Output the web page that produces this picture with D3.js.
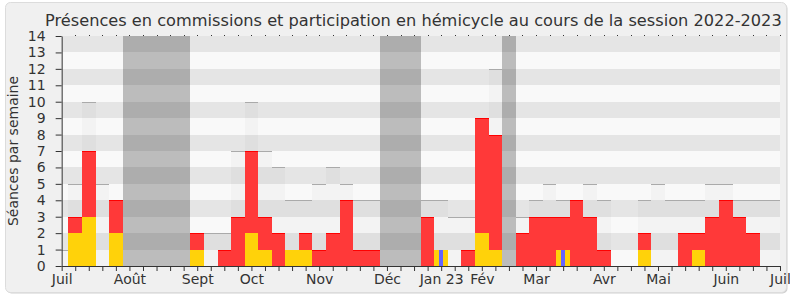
<!DOCTYPE html>
<html>
<head>
<meta charset="utf-8">
<script src="https://cdn.jsdelivr.net/npm/d3@7"></script>
<style>
  html, body { margin: 0; padding: 0; background: #fff; }
  svg { display: block; font-family: "DejaVu Sans", Verdana, sans-serif; }
</style>
</head>
<body>
<div id="chart"></div>
<script>
// Semaines de la session (0 = début juillet 2022, 53 = début juillet 2023)
const weeks = d3.range(54);

// Présences en commission + hémicycle (hauteur totale, rouge)
const presences = [0, 3, 7, 0, 4, 0, 0, 0, 0, 0, 2, 0, 1, 3, 7, 3, 2, 1, 2, 1,
  2, 4, 1, 1, 0, 0, 0, 3, 1, 0, 1, 9, 8, 0, 2, 3, 3, 3, 4, 3,
  1, 0, 0, 2, 0, 0, 2, 2, 3, 4, 3, 2, 0, 0];
// Participations en hémicycle (jaune)
const hemicycle = [0, 2, 3, 0, 2, 0, 0, 0, 0, 0, 1, 0, 0, 0, 2, 1, 0, 1, 1, 0,
  0, 0, 0, 0, 0, 0, 0, 0, 1, 0, 0, 2, 1, 0, 0, 0, 0, 1, 0, 0,
  0, 0, 0, 1, 0, 0, 0, 1, 0, 0, 0, 0, 0, 0];
// Questions orales (bleu)
const questions = [0, 0, 0, 0, 0, 0, 0, 0, 0, 0, 0, 0, 0, 0, 0, 0, 0, 0, 0, 0,
  0, 0, 0, 0, 0, 0, 0, 0, 1, 0, 0, 0, 0, 0, 0, 0, 0, 1, 0, 0,
  0, 0, 0, 0, 0, 0, 0, 0, 0, 0, 0, 0, 0, 0];
// Nombre max de séances de la semaine (colonnes grises)
const seances = [1, 5, 10, 5, 4, 0, 0, 0, 0, 0, 2, 2, 2, 7, 10, 7, 6, 4, 4, 5,
  6, 5, 4, 4, 0, 0, 0, 4, 4, 3, 3, 9, 12, 0, 3, 4, 5, 4, 4, 5,
  4, 0, 0, 4, 5, 4, 4, 4, 5, 5, 4, 4, 4, 4];
// Semaines de vacances parlementaires
const vacances = [5, 6, 7, 8, 9, 24, 25, 26, 33];

const monthLabels = ["Juil", "Août", "Sept", "Oct", "Nov", "Déc", "Jan 23", "Fév", "Mar", "Avr", "Mai", "Juin", "Juil"];
const monthWeeks = [0, 5, 10, 14, 19, 24, 28, 31, 35, 40, 44, 49, 53];
const yTicks = d3.range(0, 15);

const width = 790, height = 300;
const x0 = 61.67, x1 = 780, yTop = 36, yBot = 266;

const x = d3.scaleLinear().domain([0, 53]).range([x0, x1]);
const y = d3.scaleLinear().domain([0, 14]).range([yBot, yTop]);
const bw = x(1) - x(0);

const svg = d3.select("#chart").append("svg")
  .attr("width", width).attr("height", height)
  .attr("viewBox", [0, 0, width, height]);

// Cadre
svg.append("rect").attr("x", 6.5).attr("y", 3.5).attr("width", 781).attr("height", 290)
  .attr("rx", 5).attr("fill", "#cfcfcf");
svg.append("rect").attr("x", 5.5).attr("y", 2.5).attr("width", 781).attr("height", 290)
  .attr("rx", 5).attr("fill", "#f0f0f0").attr("stroke", "#dcdcdc");

svg.append("clipPath").attr("id", "plot")
  .append("rect").attr("x", x0).attr("y", yTop).attr("width", x1 - x0).attr("height", yBot - yTop);

const g = svg.append("g").attr("clip-path", "url(#plot)")
  .attr("shape-rendering", "crispEdges");

// Bandes horizontales
for (let i = 0; i < 14; i++) {
  g.append("rect")
    .attr("x", x0).attr("width", x1 - x0)
    .attr("y", y(i + 1)).attr("height", y(i) - y(i + 1))
    .attr("fill", i % 2 ? "#e5e5e5" : "#f9f9f9");
}

// Colonnes séances
for (const k of weeks) {
  if (!seances[k]) continue;
  g.append("rect")
    .attr("x", x(k - 0.5)).attr("width", bw)
    .attr("y", y(seances[k])).attr("height", yBot - y(seances[k]))
    .attr("fill", "#000").attr("opacity", 0.022);
  g.append("line")
    .attr("x1", x(k - 0.5)).attr("x2", x(k + 0.5))
    .attr("y1", y(seances[k]) + 0.5).attr("y2", y(seances[k]) + 0.5)
    .attr("stroke", "#aaa").attr("stroke-width", 1);
}

// Présences (rouge)
for (const k of weeks) {
  if (!presences[k]) continue;
  g.append("rect")
    .attr("x", x(k - 0.5)).attr("width", bw)
    .attr("y", y(presences[k])).attr("height", yBot - y(presences[k]))
    .attr("fill", "#ff3939");
  g.append("line")
    .attr("x1", x(k - 0.5)).attr("x2", x(k + 0.5))
    .attr("y1", y(presences[k]) + 0.5).attr("y2", y(presences[k]) + 0.5)
    .attr("stroke", "#ff0000").attr("stroke-width", 1);
}

// Hémicycle (jaune)
for (const k of weeks) {
  if (!hemicycle[k]) continue;
  g.append("rect")
    .attr("x", x(k - 0.5)).attr("width", bw)
    .attr("y", y(hemicycle[k])).attr("height", yBot - y(hemicycle[k]))
    .attr("fill", "#ffd20a");
}

// Questions (bleu)
for (const k of weeks) {
  if (!questions[k]) continue;
  g.append("rect")
    .attr("x", x(k) - 2).attr("width", 4)
    .attr("y", y(questions[k])).attr("height", yBot - y(questions[k]))
    .attr("fill", "#6464ff");
}

// Vacances
for (const k of vacances) {
  g.append("rect")
    .attr("x", x(k - 0.5)).attr("width", bw)
    .attr("y", yTop).attr("height", yBot - yTop)
    .attr("fill", "#000").attr("opacity", 0.245);
}

// Axes
const xAxis = svg.append("g").attr("transform", `translate(0,${yBot})`)
  .call(d3.axisBottom(x).tickValues(weeks).tickSize(5).tickSizeOuter(0).tickPadding(3)
    .tickFormat(k => {
      const i = monthWeeks.indexOf(k);
      return i >= 0 ? monthLabels[i] : "";
    }));
xAxis.select(".domain").attr("stroke", "#333");
xAxis.selectAll(".tick line").attr("stroke", "#333");
xAxis.selectAll("text").attr("font-size", 14).attr("fill", "#333")
  .attr("font-family", "DejaVu Sans, Verdana, sans-serif");

const yAxis = svg.append("g").attr("transform", `translate(${x0},0)`)
  .call(d3.axisLeft(y).tickValues(yTicks).tickSize(6).tickSizeOuter(0).tickPadding(10));
yAxis.select(".domain").attr("stroke", "#333");
yAxis.selectAll(".tick line").attr("stroke", "#333");
yAxis.selectAll("text").attr("font-size", 14).attr("fill", "#333")
  .attr("font-family", "DejaVu Sans, Verdana, sans-serif");

// Petits repères en haut
for (const k of weeks.slice(1)) {
  svg.append("rect").attr("x", Math.round(x(k))).attr("y", yTop - 1)
    .attr("width", 1).attr("height", 1).attr("fill", "#333");
}

svg.append("text")
  .attr("transform", `translate(18,151) rotate(-90)`)
  .attr("text-anchor", "middle").attr("font-size", 14).attr("fill", "#333")
  .text("Séances par semaine");

// Titre
const title = svg.append("text")
  .attr("x", 45).attr("y", 26)
  .attr("font-size", 17).attr("fill", "#333")
  .text("Présences en commissions et participation en hémicycle au cours de la session 2022-2023");
const tl = title.node().getComputedTextLength();
title.attr("font-size", 17 * 737 / tl);
</script>
</body>
</html>
